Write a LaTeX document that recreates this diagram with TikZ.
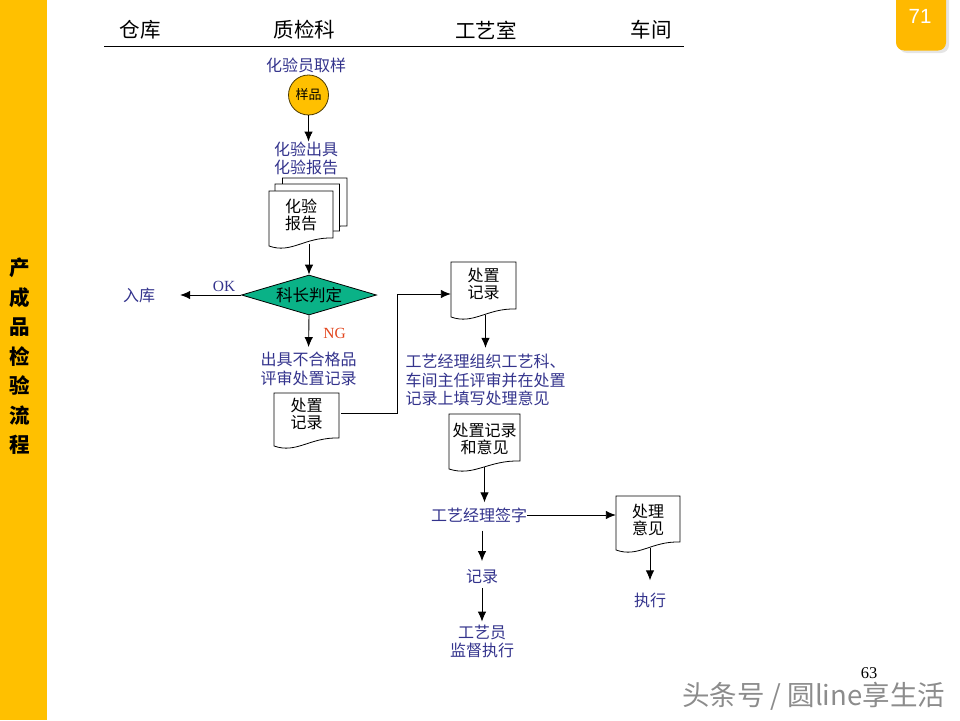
\documentclass[tikz,border=0pt]{standalone}
\usepackage{fontspec}
\setmainfont{Noto Sans CJK SC}
\newfontfamily\serifnum{Liberation Serif}
\newfontfamily\sansnum{Liberation Sans}
\usepackage{tikz}
\usetikzlibrary{shapes.geometric}
\usetikzlibrary{arrows.meta}
\definecolor{bandy}{RGB}{255,192,0}
\definecolor{tabf}{RGB}{255,185,0}
\definecolor{inkb}{RGB}{51,51,140}
\definecolor{judgeg}{RGB}{10,178,135}
\definecolor{ngred}{RGB}{226,70,30}
\tikzset{
    mytext/.style = {inner sep=0pt, align=center, text=inkb, font=\fontsize{16}{18.5}\selectfont},
    myhead/.style = {inner sep=0pt, text=black, font=\fontsize{20.5}{22}\selectfont},
    mydoc/.style = {inner sep=0pt, align=center, text=black, font=\fontsize{16}{17}\selectfont},
    mysheet/.style = {draw=black, fill=white, line width=0.8pt},
    mycirc/.style = {circle, draw=black!70!bandy, fill=bandy, line width=0.8pt, inner sep=0pt, minimum size=40pt, font=\fontsize{13}{14}\selectfont},
    mydiam/.style = {diamond, aspect=3.4, draw=black, fill=judgeg, line width=0.8pt, inner sep=0pt, minimum width=135pt, minimum height=40pt, font=\fontsize{16.5}{18}\selectfont},
    edgen/.style = {-{Latex[length=10pt,width=8.5pt]}, line width=0.9pt, black},
}
% name, center x, center y, width, height, drop of the wave, text
\newcommand{\docbox}[7]{
    \pgfmathsetmacro{\dl}{#2-#4/2}
    \pgfmathsetmacro{\dr}{#2+#4/2}
    \pgfmathsetmacro{\dt}{#3-#5/2}
    \pgfmathsetmacro{\db}{#3+#5/2+#6}
    \path[mysheet] (\dl,\dt) -- (\dr,\dt) -- (\dr,\db)
        .. controls (\dr-0.45*#4,\db-1) and (\dl+0.35*#4,\db+16) .. (\dl,\db+8) -- cycle;
    \node[mydoc, minimum width=#4pt, minimum height=#5pt] at (#2,#3) (#1) {#7};
    \coordinate (#1-out) at (#2,\db+6);
}

\begin{document}
\begin{tikzpicture}[x=1pt,y=-1pt]
\path[use as bounding box] (0,0) rectangle (960,720);
% side band and page tab
\fill[bandy] (0,0) rectangle (47,720);
\node[inner sep=0pt, align=center, font=\fontsize{20.5}{29.5}\selectfont\bfseries] at (20,356.5) (band) {产\\成\\品\\检\\验\\流\\程};
\fill[black!10, rounded corners=8pt] (899,-12) rectangle (949,53);
\fill[tabf, rounded corners=8pt] (896,-12) rectangle (946,50.5);
\node[inner sep=0pt, text=white, font=\fontsize{20.5}{22}\sansnum] at (920,16) (pageno) {71};
% columns
\node[myhead] at (140,30) (store) {仓库};
\node[myhead] at (304.5,30) (quality) {质检科};
\node[myhead] at (486,30) (craft) {工艺室};
\node[myhead] at (651,30) (shop) {车间};
\draw[line width=0.9pt] (104,46.5) -- (684,46.5);
%
\node[mytext] at (306,65) (take) {化验员取样};
\node[mycirc] at (308.5,95) (sample) {样品};
\node[mytext] at (306,158.5) (issue) {化验出具\\化验报告};
\docbox{reportc}{314.8}{202}{64.5}{48}{0}{}
\docbox{reportb}{307.3}{207.5}{64.5}{47}{0}{}
\docbox{report}{301}{214.5}{64}{47}{0}{化验\\报告}
\node[mydiam] at (309,295) (judge) {科长判定};
\node[mytext] at (139,295) (instock) {入库};
\node[mytext, font=\fontsize{15.5}{17}\serifnum] at (224,286) (ok) {OK};
\node[mytext, text=ngred, font=\fontsize{15.5}{17}\serifnum] at (334.5,333.5) (ng) {NG};
\node[mytext] at (308.5,369) (fail) {出具不合格品\\评审处置记录};
\docbox{recorda}{306.5}{413.5}{65}{41}{4}{处置\\记录}
\docbox{recordb}{483.5}{284}{65}{44}{3}{处置\\记录}
\node[mytext, align=left] at (485.5,380) (review) {工艺经理组织工艺科、\\车间主任评审并在处置\\记录上填写处理意见};
\docbox{recordc}{484.5}{439}{71}{50}{-3}{处置记录\\和意见}
\node[mytext] at (479,515) (sign) {工艺经理签字};
\docbox{opinion}{648}{520}{64}{48}{-2}{处理\\意见}
\node[mytext] at (650,600) (exec) {执行};
\node[mytext] at (482,576.5) (log) {记录};
\node[mytext] at (482,641.5) (watch) {工艺员\\监督执行};
%
\coordinate (jog) at (397.5,413.5);
\draw[edgen] (sample.south) -- (sample.south |- issue.north);
\draw[edgen] (judge.north |- report-out) -- (judge.north);
\draw[edgen] (judge.west) -- (instock.east) [shorten >=25pt];
\draw[edgen, shorten >=5pt] (judge.south) -- (fail.north);
\draw[edgen, shorten <=2pt] (recorda.east) -- (jog) |- ([yshift=-10pt]recordb.west);
\draw[edgen, shorten >=6pt] (review.north |- recordb-out) -- (review.north);
\draw[edgen, shorten >=5pt] (recordc-out) -- (recordc-out |- sign.north);
\draw[edgen] (sign.east) -- (sign.east -| opinion.west);
\draw[edgen, shorten <=8pt, shorten >=8pt] (log.north |- sign.south) -- (log.north);
\draw[edgen, shorten <=4pt, shorten >=3pt] (log.south) -- (watch.north);
\draw[edgen, shorten >=12pt] (exec.north |- opinion-out) -- (exec.north);
%
\node[inner sep=0pt, text=black, font=\fontsize{16.5}{18}\serifnum] at (869,673) (slide) {63};
\node[inner sep=0pt, text=black!45, font=\fontsize{27.5}{29}\selectfont] at (813.5,696) (mark) {头条号 / 圆line享生活};
\end{tikzpicture}
\end{document}
